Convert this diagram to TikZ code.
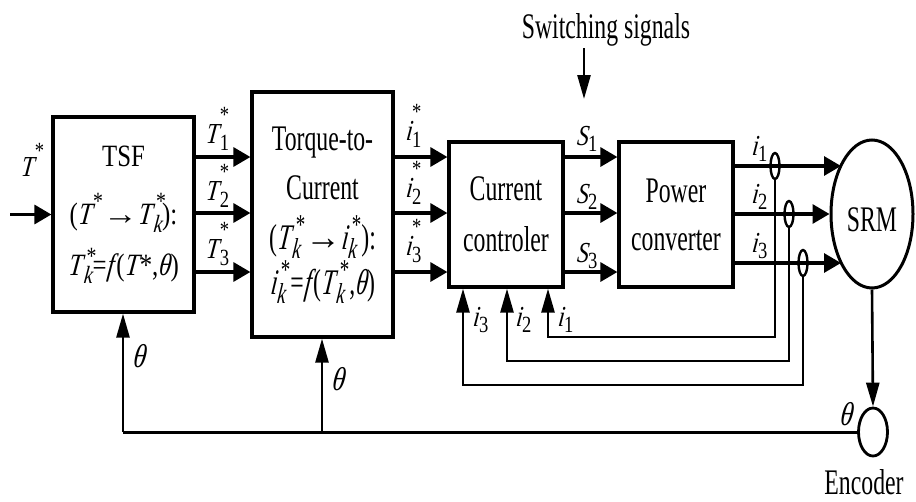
\documentclass[tikz,border=0pt]{standalone}
\usepackage{fontspec}
\setmainfont{Liberation Serif}[
  ItalicFont={Liberation Serif Italic},
  ItalicFeatures={FakeSlant=0.12},
  FakeStretch=0.66]
\newfontfamily\tsffont{Liberation Serif}[
  ItalicFont={Liberation Serif Italic},
  ItalicFeatures={FakeSlant=0.12},
  FakeStretch=0.8]
\newfontfamily\lblfont{Liberation Serif}[
  ItalicFont={Liberation Serif Italic},
  ItalicFeatures={FakeSlant=0.12},
  FakeStretch=0.8]
\usetikzlibrary{arrows.meta,shapes.geometric}
\makeatletter
\newcommand\scr{\fontsize{\fpeval{0.8*\f@size}}{0}\selectfont}
\makeatother
% star left-aligned over the subscript
\newcommand\SSr[4][0.3em]{\textit{#2}\rlap{\kern0.1em\smash{\raisebox{#1}{\scr #4}}}\smash{\raisebox{-0.25em}{\scr #3}}}
% star right-aligned at the end of the subscript
\newcommand\SSl[4][0.3em]{\textit{#2}\smash{\raisebox{-0.25em}{\scr #3}}\llap{\smash{\raisebox{#1}{\scr #4}}}\kern0.06em}
% star just past the end of the subscript
\newcommand\SSt[3]{\textit{#1}\smash{\raisebox{-0.25em}{\scr #2}}\kern0.14em\llap{\smash{\raisebox{0.42em}{\scr #3}}}}
\newcommand\SupOnly[3][0.3em]{\textit{#2}\smash{\raisebox{#1}{\scr #3}}}
\newcommand\SubOnly[2]{\textit{#1}\smash{\raisebox{-0.22em}{\scr #2}}}
\newcommand\LArr[1]{\scalebox{#1}[1]{→}}
\begin{document}
\begin{tikzpicture}[x=1pt,y=-1pt,
  line width=3.2pt,
  harr/.style={-{Triangle[length=17pt,width=19pt]}},
  varr/.style={line width=2.6pt,-{Triangle[length=24pt,width=13pt]}},
  blk/.style={draw,rectangle,inner sep=0pt,align=center},
  lbl/.style={inner sep=0pt,anchor=base west,font=\lblfont\fontsize{29}{29}\selectfont},
  sens/.style={draw,ellipse,line width=2.4pt,minimum width=9pt,minimum height=26pt,inner sep=0pt}]
\useasboundingbox (0,0) rectangle (916,501);

% blocks
\node[blk, minimum width=141pt, minimum height=195pt, font=\tsffont\fontsize{31}{58}\selectfont] (tsf) at (123.5,214.5)
  {TSF\\(\SupOnly[0.5em]{T}{*}\LArr{1.4}\SSr[0.5em]{T}{\textit{k}}{*}):\\[-7pt]\SSr[0.38em]{T}{\textit{k}}{*}=\textit{f}(\textit{T}*,\textit{θ})};
\node[blk, minimum width=141pt, minimum height=245pt, font=\fontsize{36}{49}\selectfont] (t2c) at (322.5,214.5)
  {Torque-to-\\Current\\[1pt](\SSt{T}{\textit{k}}{*}\LArr{1.5}\SSt{i}{\textit{k}}{*}):\\[-4pt]\SSt{i}{\textit{k}}{*}=\textit{f}(\SSt{T}{\textit{k}}{*},\textit{θ})};
\node[blk, minimum width=114pt, minimum height=145pt, font=\fontsize{36}{51}\selectfont] (cc) at (506,214.5) {Current\\controler};
\node[blk, minimum width=114pt, minimum height=145pt, font=\fontsize{36}{48}\selectfont] (pc) at (676,214.5) {Power\\converter};
\node[draw, ellipse, line width=3pt, minimum width=82pt, minimum height=148pt, inner sep=0pt, text height=36pt, font=\fontsize{36}{36}\selectfont] (srm) at (872,214) {SRM};
\node[draw, ellipse, line width=2.8pt, minimum width=29pt, minimum height=48pt, inner sep=0pt] (enc) at (873,432) {};
\node[anchor=base, inner sep=0pt, font=\fontsize{36}{36}\selectfont] (enctxt) at (864,494) {Encoder};
\node[anchor=base, inner sep=0pt, font=\fontsize{36}{36}\selectfont] (sw) at (606,38) {Switching signals};

% rows
\coordinate (r1) at (0,157);
\coordinate (r2) at (0,213);
\coordinate (r3) at (0,272);
\coordinate (q1) at (0,166);
\coordinate (q2) at (0,214);
\coordinate (q3) at (0,263);

% input
\coordinate (tin) at (10,214.5);
\draw[harr] (tin) -- (tsf.west);

\foreach \r in {r1,r2,r3}{
  \draw[harr] (tsf.east |- \r) -- (t2c.west |- \r);
  \draw[harr] (t2c.east |- \r) -- (cc.west |- \r);
  \draw[harr] (cc.east |- \r) -- (pc.west |- \r);
}

% switching signals arrow
\coordinate (swa) at (584,48);
\coordinate (swb) at (584,99);
\draw[varr] (swa) -- (swb);

% to SRM
\coordinate (m1) at (841,166);
\coordinate (m3) at (841,263);
\draw[harr] (pc.east |- q1) -- (m1);
\draw[harr] (pc.east |- q2) -- (srm.west);
\draw[harr] (pc.east |- q3) -- (m3);

% current feedback
\node[sens] (o1) at (775,166) {};
\node[sens] (o2) at (789,214) {};
\node[sens] (o3) at (803,263) {};
\coordinate (f1) at (548,337);
\coordinate (f2) at (507,361);
\coordinate (f3) at (463,385);
\draw[varr] (o1.south) |- (f1) -- (f1 |- cc.south);
\draw[varr] (o2.south) |- (f2) -- (f2 |- cc.south);
\draw[varr] (o3.south) |- (f3) -- (f3 |- cc.south);

% encoder
\draw[varr] (srm.south) -- (enc.north);
\coordinate (th1) at (123,432);
\coordinate (th2) at (322,432);
\draw[line width=3pt] (enc.west) -- (th1);
\draw[varr] (th1) -- (th1 |- tsf.south);
\draw[varr] (th2) -- (th2 |- t2c.south);

% labels
\node[lbl] (lT) at (19,176) {\SupOnly[0.6em]{T}{*}};
\node[lbl] (lT1) at (204,143) {\SSl[0.7em]{T}{1}{*}};
\node[lbl] (lT2) at (204,200) {\SSl[0.7em]{T}{2}{*}};
\node[lbl] (lT3) at (204,258) {\SSl[0.7em]{T}{3}{*}};
\node[lbl] (li1s) at (404,140) {\SSl[0.7em]{i}{1}{*}\kern0.15em};
\node[lbl] (li2s) at (404,197) {\SSl[0.7em]{i}{2}{*}\kern0.15em};
\node[lbl] (li3s) at (404,255) {\SSl[0.7em]{i}{3}{*}\kern0.15em};
\node[lbl] (lS1) at (575,145) {\SubOnly{S}{1}};
\node[lbl] (lS2) at (575,203) {\SubOnly{S}{2}};
\node[lbl] (lS3) at (575,262) {\SubOnly{S}{3}};
\node[lbl] (lo1) at (750,155) {\SubOnly{i}{1}};
\node[lbl] (lo2) at (750,203) {\SubOnly{i}{2}};
\node[lbl] (lo3) at (750,252) {\SubOnly{i}{3}};
\node[lbl] (lf3) at (471,326) {\SubOnly{i}{3}};
\node[lbl] (lf2) at (514,326) {\SubOnly{i}{2}};
\node[lbl] (lf1) at (556,326) {\SubOnly{i}{1}};
\node[lbl, font=\lblfont\fontsize{33}{33}\selectfont] (lth1) at (131,367) {\textit{θ}};
\node[lbl, font=\lblfont\fontsize{33}{33}\selectfont] (lth2) at (330,390) {\textit{θ}};
\node[lbl, font=\lblfont\fontsize{33}{33}\selectfont] (lth3) at (838,425) {\textit{θ}};
\end{tikzpicture}
\end{document}
